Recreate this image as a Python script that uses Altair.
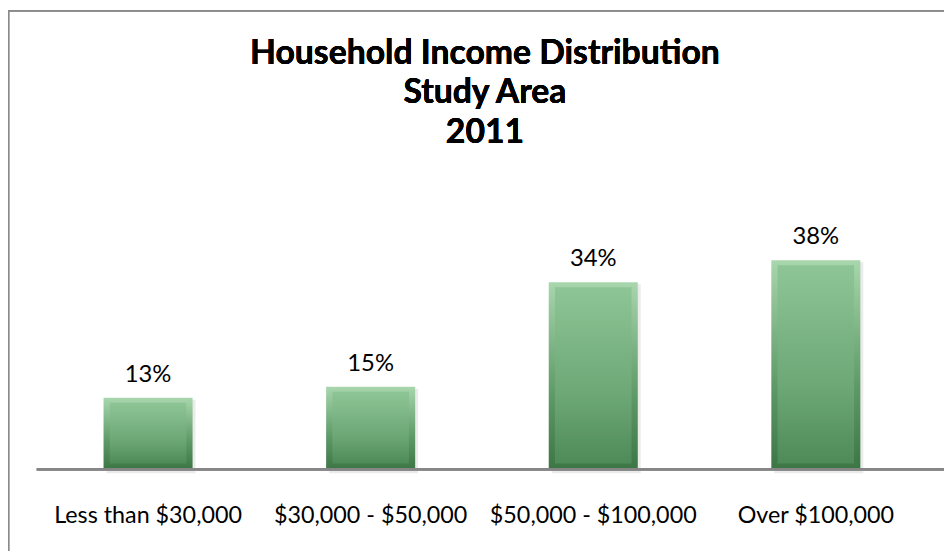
import altair as alt
import pandas as pd

categories = ["Less than $30,000", "$30,000 - $50,000", "$50,000 - $100,000", "Over $100,000"]
values = [13, 15, 34, 38]
labels = ["13%", "15%", "34%", "38%"]
title_lines = ["Household Income Distribution", "Study Area", "2011"]

df = pd.DataFrame({"cat": categories, "val": values, "lab": labels})

FONT = "Lato"

x = alt.X("cat:N", sort=categories, title=None,
          scale=alt.Scale(paddingInner=0.6, paddingOuter=0.3),
          axis=alt.Axis(labelAngle=0, labelFont=FONT, labelFontSize=23.5, labelColor="#000000",
                        labelPadding=35, labelLimit=0, ticks=False, domain=False, labelBaseline="top"))
y = alt.Y("val:Q", scale=alt.Scale(domain=[0, 40]), axis=None)

base = alt.Chart(df)

outer_grad = alt.LinearGradient(gradient="linear", x1=0, y1=0, x2=0, y2=1,
                                stops=[alt.GradientStop(color="#a8d6ad", offset=0),
                                       alt.GradientStop(color="#5e9a67", offset=0.6),
                                       alt.GradientStop(color="#3c7645", offset=1)])
inner_grad = alt.LinearGradient(gradient="linear", x1=0, y1=0, x2=0, y2=1,
                                stops=[alt.GradientStop(color="#8ec596", offset=0),
                                       alt.GradientStop(color="#6ea877", offset=0.6),
                                       alt.GradientStop(color="#4e8b58", offset=1)])

shadow = base.mark_bar(color="#000000", opacity=0.08, xOffset=3, yOffset=2, y2Offset=4).encode(x=x, y=y, y2=alt.datum(0))
outer = base.mark_bar(color=outer_grad).encode(x=x, y=y)
inner = base.mark_bar(color=inner_grad, yOffset=5, y2Offset=-6,
                      width=alt.RelativeBandSize(0.86)).encode(x=x, y=y, y2=alt.datum(0))
text = base.mark_text(font=FONT, fontSize=24, color="#000000", baseline="alphabetic", dy=-16).encode(
    x=x, y=y, text="lab:N")

title = base.mark_text(font=FONT, fontSize=34, fontWeight="bold", color="#000000",
                       baseline="alphabetic", align="center", lineHeight=40).encode(
    x=alt.value(452), y=alt.value(-187), text=alt.value(title_lines))

baseline = base.mark_rule(color="#868686", strokeWidth=2.5).encode(
    y=alt.datum(0), x=alt.value(0), x2=alt.value(915))
left_border = base.mark_rule(color="#8a8a8a", strokeWidth=1.5).encode(
    x=alt.value(-28.5), y=alt.value(-240.5), y2=alt.value(330))
top_border = base.mark_rule(color="#8a8a8a", strokeWidth=1.5).encode(
    y=alt.value(-240.5), x=alt.value(-28.5), x2=alt.value(930))

chart = alt.layer(shadow, outer, inner, text, title, baseline, left_border, top_border).properties(
    width=898, height=222,
    padding={"left": 29, "top": 241, "right": 17, "bottom": 80},
    autosize=alt.AutoSizeParams(type="none"),
).configure_view(stroke=None)

chart.save("out.html", embed_options={"renderer": "svg", "actions": False})
